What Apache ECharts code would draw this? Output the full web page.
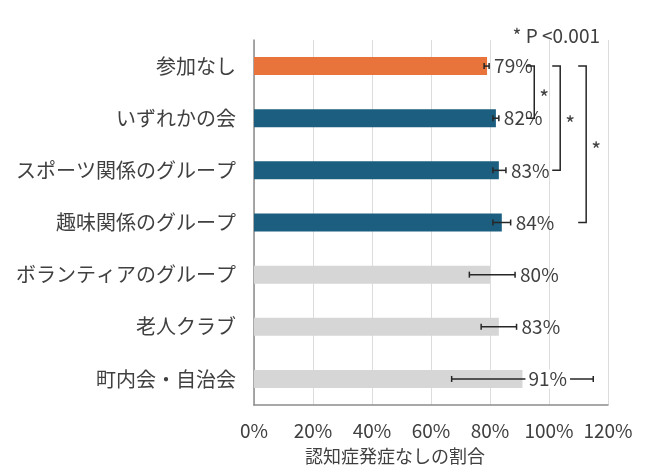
<!DOCTYPE html>
<html style="height: 100%">
<head>
    <meta charset="utf-8">
</head>
<body style="height: 100%; margin: 0; background: #fff">
<div id="container" style="height: 100%"></div>

<script type="text/javascript" src="https://cdn.jsdelivr.net/npm/echarts@6/dist/echarts.min.js"></script>

<script type="text/javascript">
    // data (percent)
    var groups = ['参加なし', 'いずれかの会', 'スポーツ関係のグループ', '趣味関係のグループ',
        'ボランティアのグループ', '老人クラブ', '町内会・自治会'];
    var rates = [79, 82, 83, 84, 80, 83, 91];
    var ciLow = [78, 81, 81, 81, 73, 77, 67];
    var ciHigh = [79.7, 83, 85.4, 87, 88.5, 89, 115];
    var tickLabels = ['0%', '20%', '40%', '60%', '80%', '100%', '120%'];
    // significant differences, pairs of group indexes
    var sigPairs = [[0, 1], [0, 2], [0, 3]];
    var sigNote = '* P <0.001';

    // styles
    var font = "'Noto Sans CJK JP', 'Noto Sans', sans-serif";
    var textColor = '#404040';
    var barColors = ['#E8743B', '#1B5E80', '#1B5E80', '#1B5E80', '#D6D6D6', '#D6D6D6', '#D6D6D6'];
    var bracketStart = 95, bracketStep = 8.8;

    var dom = document.getElementById('container');
    var myChart = echarts.init(dom);

    var barData = rates.map(function (v, i) {
        return {value: v, itemStyle: {color: barColors[i]}};
    });
    var errData = rates.map(function (v, i) {
        return [i, v, ciLow[i], ciHigh[i]];
    });
    var sigData = sigPairs.map(function (p, k) {
        return [p[0], p[1], bracketStart + bracketStep * k];
    });

    var option = {
        animation: false,
        textStyle: {fontFamily: font},
        title: {
            text: sigNote,
            right: 44,
            top: 21,
            textStyle: {fontSize: 19, fontWeight: 'normal', color: textColor, fontFamily: font}
        },
        grid: {left: 254, right: 41, top: 40, bottom: 61, outerBoundsMode: 'none', containLabel: false},
        xAxis: {
            type: 'value',
            min: 0,
            max: 120,
            interval: 20,
            name: '認知症発症なしの割合',
            nameLocation: 'middle',
            nameGap: 42,
            nameTextStyle: {fontSize: 18, color: textColor, padding: [0, 72, 0, 0]},
            axisLine: {show: true, lineStyle: {color: '#8c8c8c', width: 1.5}},
            axisTick: {show: false},
            axisLabel: {
                fontSize: 19, color: textColor, margin: 16,
                formatter: function (v) { return tickLabels[Math.round(v / 20)]; }
            },
            splitLine: {lineStyle: {color: '#dcdcdc', width: 1}}
        },
        yAxis: {
            type: 'category',
            inverse: true,
            data: groups,
            axisLine: {show: true, lineStyle: {color: '#8c8c8c', width: 1.5}},
            axisTick: {show: false},
            axisLabel: {fontSize: 20, color: textColor, margin: 18}
        },
        series: [
            {
                type: 'bar',
                data: barData,
                barWidth: 18,
                z: 2
            },
            {
                type: 'custom',
                data: errData,
                z: 3,
                renderItem: function (params, api) {
                    var idx = api.value(0);
                    var lo = api.coord([api.value(2), idx]);
                    var hi = api.coord([api.value(3), idx]);
                    var end = api.coord([api.value(1), idx]);
                    var y = lo[1];
                    var cap = 3;
                    var st = {stroke: '#262626', lineWidth: 1.5};
                    // label sits past the upper whisker, or on it if the whisker runs past 100%
                    var over = api.value(3) > 100;
                    var lx = over ? end[0] + 3 : hi[0] + 5;
                    return {
                        type: 'group',
                        children: [
                            {type: 'line', shape: {x1: lo[0], y1: y, x2: hi[0], y2: y}, style: st},
                            {type: 'line', shape: {x1: lo[0], y1: y - cap, x2: lo[0], y2: y + cap}, style: st},
                            {type: 'line', shape: {x1: hi[0], y1: y - cap, x2: hi[0], y2: y + cap}, style: st},
                            {
                                type: 'text',
                                x: lx, y: y,
                                style: {
                                    text: api.value(1) + '%',
                                    fill: textColor,
                                    font: '19px ' + font,
                                    align: 'left',
                                    verticalAlign: 'middle',
                                    backgroundColor: over ? '#fff' : null,
                                    padding: over ? [0, 3] : 0
                                }
                            }
                        ]
                    };
                }
            },
            {
                type: 'custom',
                data: sigData,
                z: 4,
                renderItem: function (params, api) {
                    var a = api.coord([api.value(2), api.value(0)]);
                    var b = api.coord([api.value(2), api.value(1)]);
                    var x = a[0], w = 8;
                    return {
                        type: 'group',
                        children: [
                            {
                                type: 'polyline',
                                shape: {points: [[x - w, a[1]], [x, a[1]], [x, b[1]], [x - w, b[1]]]},
                                style: {stroke: '#262626', lineWidth: 1.5, fill: null}
                            },
                            {
                                type: 'text',
                                x: x + 10, y: (a[1] + b[1]) / 2 + 6,
                                style: {
                                    text: '*',
                                    fill: textColor,
                                    font: '21px ' + font,
                                    align: 'center',
                                    verticalAlign: 'middle'
                                }
                            }
                        ]
                    };
                }
            }
        ]
    };

    myChart.setOption(option);
</script>
</body>
</html>
